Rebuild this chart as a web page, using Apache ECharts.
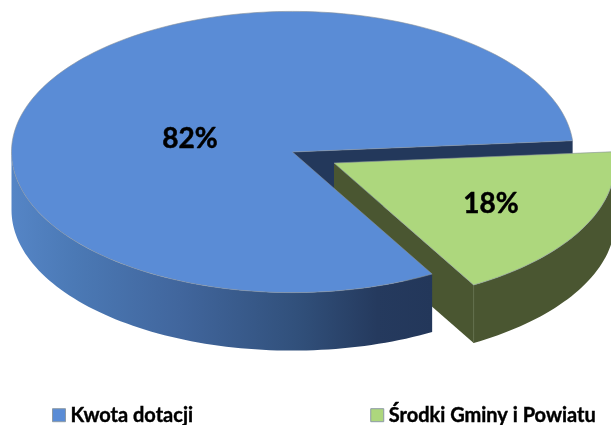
<!DOCTYPE html>
<html>
<head>
<meta charset="utf-8">
<style>html,body{margin:0;padding:0;background:#fff}#c{width:611px;height:425px}</style>
<script src="https://cdn.jsdelivr.net/npm/echarts@6/dist/echarts.min.js"></script>
</head>
<body>
<div id="c"></div>
<script>
const categories = ['Kwota dotacji', 'Środki Gminy i Powiatu'];
const shares = [82, 18];
const topColors = ['#5a8cd6', '#add77d'];

const total = shares.reduce((a, b) => a + b, 0);
const geom = { cx: 292.5, cy: 152, rx: 281, ry: 140.6, depth: 58, start: -4.6 };
const greenOffset = [41.5, 11];
const deg = Math.PI / 180;
const pt = (c, t, d) => [c[0] + geom.rx * Math.cos(t * deg), c[1] + geom.ry * Math.sin(t * deg) + (d || 0)];
function arc(c, a, b, d) {
  const out = [], n = Math.max(8, Math.ceil(Math.abs(b - a) / 1.5));
  for (let i = 0; i <= n; i++) out.push(pt(c, a + (b - a) * i / n, d));
  return out;
}
const greenSweep = shares[1] / total * 360;
const blueSweep = shares[0] / total * 360;
const edge = { stroke: 'rgba(135,145,155,0.75)', lineWidth: 0.8 };
const labelStyle = { fill: '#000', stroke: '#000', lineWidth: 0.5, font: 'bold 28px Lato', align: 'center', verticalAlign: 'middle' };

function renderBlue(params, api) {
  const c = [geom.cx, geom.cy];
  const a = geom.start + greenSweep, b = a + blueSweep;
  const top = [c].concat(arc(c, a, b));
  const visibleEnd = 180;
  const sideTop = arc(c, a, visibleEnd);
  const sideBottom = arc(c, a, visibleEnd, geom.depth).reverse();
  const back = [c, pt(c, b), pt(c, b, geom.depth), [c[0], c[1] + geom.depth]];
  return {
    type: 'group',
    children: [
      { type: 'polygon', z2: 1, shape: { points: back }, style: { fill: '#23385b' } },
      { type: 'polygon', z2: 20, shape: { points: sideTop.concat(sideBottom) }, style: {
          fill: new echarts.graphic.LinearGradient(1, 0, 0, 0, [
            { offset: 0, color: '#23375a' },
            { offset: 0.13, color: '#253a5e' },
            { offset: 0.32, color: '#31507b' },
            { offset: 0.6, color: '#41669d' },
            { offset: 0.85, color: '#4b79b5' },
            { offset: 1, color: '#5585c6' }
          ])
        } },
      { type: 'polygon', z2: 21, shape: { points: top }, style: Object.assign({ fill: topColors[0] }, edge) },
      { type: 'text', z2: 30, x: 190, y: 139, style: Object.assign({ text: api.value(0) + '%' }, labelStyle) }
    ]
  };
}

function renderGreen(params, api) {
  const c = [geom.cx + greenOffset[0], geom.cy + greenOffset[1]];
  const a = geom.start, b = a + greenSweep;
  const top = [c].concat(arc(c, a, b));
  const sideTop = arc(c, 0, b);
  const sideBottom = arc(c, 0, b, geom.depth).reverse();
  const p = pt(c, b);
  const inner = [c, p, [p[0], p[1] + geom.depth], [c[0], c[1] + geom.depth]];
  return {
    type: 'group',
    children: [
      { type: 'polygon', z2: 5, shape: { points: sideTop.concat(sideBottom) }, style: { fill: '#4a5631' } },
      { type: 'polygon', z2: 6, shape: { points: inner }, style: { fill: '#4a5631' } },
      { type: 'line', z2: 7, shape: { x1: p[0], y1: p[1], x2: p[0], y2: p[1] + geom.depth }, style: { stroke: '#5f6c47', lineWidth: 1 } },
      { type: 'polygon', z2: 8, shape: { points: top }, style: Object.assign({ fill: topColors[1] }, edge) },
      { type: 'text', z2: 30, x: 491, y: 204, style: Object.assign({ text: api.value(0) + '%' }, labelStyle) }
    ]
  };
}

const chart = echarts.init(document.getElementById('c'), null, { renderer: 'canvas' });
chart.setOption({
  animation: false,
  backgroundColor: '#fff',
  legend: {
    left: 52, top: 405, padding: 0, itemWidth: 13, itemHeight: 13, itemGap: 177, icon: 'rect', selectedMode: false,
    textStyle: { fontFamily: 'Lato', fontWeight: 'bold', fontSize: 20, color: '#000', textBorderColor: '#000', textBorderWidth: 0.4 },
    data: categories.map((name, i) => ({ name, itemStyle: { color: topColors[i], borderColor: '#8d9aa6', borderWidth: 1 } }))
  },
  series: [
    { type: 'custom', name: categories[0], coordinateSystem: 'none', silent: true, data: [[shares[0]]], renderItem: renderBlue, itemStyle: { color: topColors[0] } },
    { type: 'custom', name: categories[1], coordinateSystem: 'none', silent: true, data: [[shares[1]]], renderItem: renderGreen, itemStyle: { color: topColors[1] } }
  ]
});
</script>
</body>
</html>
